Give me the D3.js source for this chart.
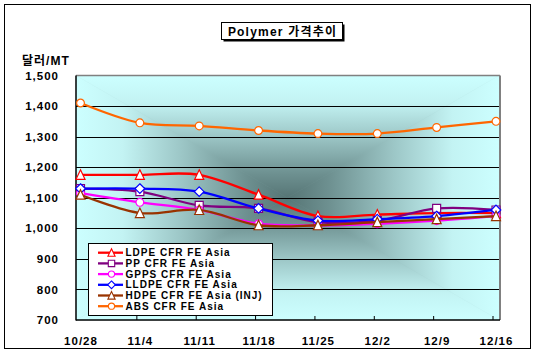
<!DOCTYPE html>
<html><head><meta charset="utf-8">
<script src="https://cdn.jsdelivr.net/npm/d3@7"></script>
<style>
body{margin:0;background:#fff}
svg{display:block}
text{font-family:"Liberation Sans",Arial,"Noto Sans CJK KR",sans-serif;font-weight:bold;fill:#000}
</style>
</head><body><svg id="c" width="538" height="355"></svg>
<script>
const categories = ["10/28","11/4","11/11","11/18","11/25","12/2","12/9","12/16"];
const ldpe  = [1175,1175,1175,1110,1040,1045,1050,1050];
const pp    = [1130,1120,1075,1065,1020,1025,1065,1060];
const gpps  = [1115,1085,1060,1015,1010,1015,1025,1040];
const lldpe = [1130,1130,1120,1065,1025,1030,1040,1060];
const hdpe  = [1110,1050,1060,1010,1010,1020,1030,1040];
const abs   = [1410,1345,1335,1320,1310,1310,1330,1350];
const seriesNames = ["LDPE CFR FE Asia","PP CFR FE Asia","GPPS CFR FE Asia","LLDPE CFR FE Asia","HDPE CFR FE Asia (INJ)","ABS CFR FE Asia"];
const seriesColors = ["#ff0000","#800080","#ff00ff","#0000ff","#993300","#ff6600"];
const seriesMarkers = ["triangle","square","circle","diamond","triangle","circle"];
const yTicks = [700,800,900,1000,1100,1200,1300,1400,1500];
const titleText = "Polymer 가격추이";
const yTitle = "달러/MT";

const seriesValues = [ldpe, pp, gpps, lldpe, hdpe, abs];
const series = seriesNames.map((n,i)=>({name:n,color:seriesColors[i],marker:seriesMarkers[i],values:seriesValues[i]}));

const svg = d3.select("#c");
const L=76, R=499, T=75.5, B=320;
const cx=(L+R)/2, cy=(T+B)/2;

const x = d3.scalePoint().domain(categories).range([80.5,496]);
const y = d3.scaleLinear().domain([700,1500]).range([B,T]);

// outer border
svg.append("rect").attr("x",4.5).attr("y",4.5).attr("width",526).attr("height",344)
  .attr("fill","#fff").attr("stroke","#000").attr("stroke-width",1);

// gradient (rectangular from center)
const defs = svg.append("defs");
const stops = [[0,"#ccffff"],[0.22,"#c3f3f3"],[0.5,"#9cc6c6"],[0.8,"#6e9191"],[1,"#567575"]];
function grad(id,x1,y1,x2,y2){
  const g = defs.append("linearGradient").attr("id",id).attr("gradientUnits","userSpaceOnUse")
    .attr("x1",x1).attr("y1",y1).attr("x2",x2).attr("y2",y2);
  stops.forEach(s=>g.append("stop").attr("offset",s[0]).attr("stop-color",s[1]));
}
grad("gT",cx,T,cx,cy); grad("gB",cx,B,cx,cy); grad("gL",L,cy,cx,cy); grad("gR",R,cy,cx,cy);
const bg = svg.append("g");
bg.append("rect").attr("x",L).attr("y",T).attr("width",R-L).attr("height",B-T).attr("fill","#90b8b8");
[["gT",[[L,T],[R,T],[cx,cy]]],["gB",[[L,B],[R,B],[cx,cy]]],["gL",[[L,T],[L,B],[cx,cy]]],["gR",[[R,T],[R,B],[cx,cy]]]]
 .forEach(([id,pts])=>bg.append("polygon").attr("points",pts.map(p=>p.join(",")).join(" "))
   .attr("fill",`url(#${id})`).attr("stroke",`url(#${id})`).attr("stroke-width",0.6));

// gridlines
svg.append("g").selectAll("line").data(yTicks.filter(v=>v>700&&v<1500)).join("line")
  .attr("x1",L).attr("x2",R).attr("y1",d=>Math.round(y(d))+0.5).attr("y2",d=>Math.round(y(d))+0.5)
  .attr("stroke","#000").attr("stroke-width",1).attr("shape-rendering","crispEdges");

// plot border
svg.append("line").attr("x1",L).attr("x2",R+1).attr("y1",T).attr("y2",T).attr("stroke","#808080").attr("stroke-width",1.5);
svg.append("line").attr("x1",R+1).attr("x2",R+1).attr("y1",T).attr("y2",B).attr("stroke","#808080").attr("stroke-width",2);
svg.append("line").attr("x1",L).attr("x2",L).attr("y1",T).attr("y2",B+0.5).attr("stroke","#000").attr("stroke-width",1.5);
svg.append("line").attr("x1",L).attr("x2",R+1).attr("y1",B).attr("y2",B).attr("stroke","#000").attr("stroke-width",1.5);

// x ticks
svg.append("g").selectAll("line").data(categories.slice(1)).join("line")
  .attr("x1",d=>x(d)-3).attr("x2",d=>x(d)-3).attr("y1",B).attr("y2",B-4)
  .attr("stroke","#000").attr("stroke-width",1);

// y labels
svg.append("g").selectAll("text").data(yTicks).join("text")
  .attr("x",59).attr("y",d=>y(d)).attr("dy","0.36em").attr("text-anchor","end")
  .attr("font-size",11.5).attr("letter-spacing",1).text(d=>d3.format(",")(d));
// x labels
svg.append("g").selectAll("text").data(categories).join("text")
  .attr("x",d=>x(d)+0.5).attr("y",344.5).attr("text-anchor","middle")
  .attr("font-size",11.5).attr("letter-spacing",1).text(d=>d);
// y title
svg.append("text").attr("x",22).attr("y",64.5).attr("font-size",12).attr("letter-spacing",1).text(yTitle);

// markers
function markerPath(type, s){
  const k = s||1;
  if(type==="triangle") return `M0,${-5*k}L${4.5*k},${4.5*k}L${-4.5*k},${4.5*k}Z`;
  if(type==="square") return `M${-4*k},${-4*k}H${4*k}V${4*k}H${-4*k}Z`;
  if(type==="diamond") return `M0,${-4.8*k}L${4.8*k},0L0,${4.8*k}L${-4.8*k},0Z`;
  const r=3.9*k; return `M${r},0A${r},${r} 0 1,1 ${-r},0A${r},${r} 0 1,1 ${r},0Z`;
}

const line = d3.line().x((d,i)=>x(categories[i])).y(d=>y(d)).curve(d3.curveCardinal.tension(0));
const plot = svg.append("g");
series.forEach(s=>{
  const g = plot.append("g");
  g.append("path").attr("d",line(s.values)).attr("fill","none").attr("stroke",s.color).attr("stroke-width",2.3);
  g.selectAll("path.m").data(s.values).join("path").attr("class","m")
    .attr("transform",(d,i)=>`translate(${x(categories[i])},${y(d)})`)
    .attr("d",markerPath(s.marker)).attr("fill","#fff").attr("stroke",s.color).attr("stroke-width",1.2);
});

// legend
const lg = svg.append("g");
lg.append("rect").attr("x",88.5).attr("y",243.5).attr("width",184).attr("height",72)
  .attr("fill","#fff").attr("stroke","#000").attr("stroke-width",1);
series.forEach((s,i)=>{
  const yy = 252.7 + i*10.7;
  lg.append("line").attr("x1",98).attr("x2",123).attr("y1",yy).attr("y2",yy).attr("stroke",s.color).attr("stroke-width",2.3);
  lg.append("path").attr("transform",`translate(111.5,${yy})`).attr("d",markerPath(s.marker,0.8))
    .attr("fill","#fff").attr("stroke",s.color).attr("stroke-width",1.1);
  lg.append("text").attr("x",125.5).attr("y",yy).attr("dy","0.36em").attr("font-size",10).attr("letter-spacing",1).text(s.name);
});

// title
svg.append("rect").attr("x",223.5).attr("y",24.5).attr("width",121).attr("height",17).attr("fill","#000");
svg.append("rect").attr("x",221.5).attr("y",22.5).attr("width",121).attr("height",17).attr("fill","#fff").attr("stroke","#000").attr("stroke-width",1);
svg.append("text").attr("x",282.5).attr("y",31.5).attr("dy","0.36em").attr("text-anchor","middle")
  .attr("font-size",12).attr("letter-spacing",1.2).text(titleText);
</script>
</body></html>
